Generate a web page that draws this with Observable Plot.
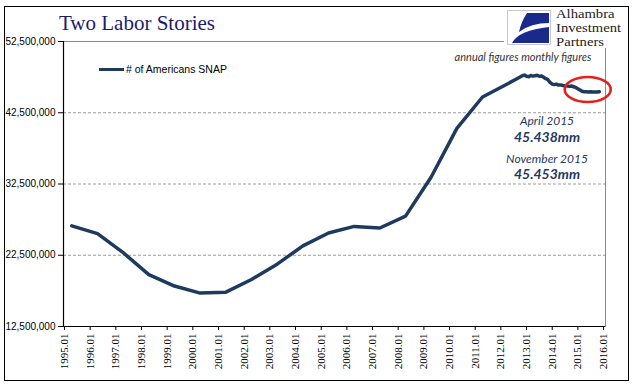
<!DOCTYPE html>
<html>
<head>
<meta charset="utf-8">
<script src="https://cdn.jsdelivr.net/npm/d3@7"></script>
<script src="https://cdn.jsdelivr.net/npm/@observablehq/plot@0.6"></script>
<style>
  html, body { margin: 0; padding: 0; background: #fff; }
  #wrap { position: relative; width: 641px; height: 392px; overflow: hidden; background: #fff; }
  #wrap svg { position: absolute; left: 0; top: 0; }
  .ov { position: absolute; white-space: nowrap; }
  #border { position: absolute; left: 4px; top: 6px; width: 625px; height: 375px; border: 1.5px solid #000; box-sizing: border-box; pointer-events: none; }
  #title { left: 59px; top: 11px; font-family: "Liberation Serif", serif; font-size: 21px; color: #1b1b6e; }
  #legend { left: 99px; top: 63px; font-family: "Liberation Sans", Arial, sans-serif; font-size: 10.5px; color: #000; display: flex; align-items: center; }
  #legend .sw { width: 25px; height: 3px; background: #1f3a5f; margin-right: 2px; }
  #logo { left: 504px; top: 7px; width: 123px; height: 41px; background: #fff; }
  #logo .txt { position: absolute; left: 52px; font-family: "Liberation Serif", serif; font-size: 12px; line-height: 13px; height: 13px; color: #222; transform: scaleX(1.22); transform-origin: left center; }
  .ann { font-family: Lato, "Open Sans", sans-serif; color: #1f3864; transform: translateX(-50%); }
</style>
</head>
<body>
<div id="wrap"></div>
<script>
// ---- data ----
const annualDates = ["1995-04-15","1996-04-15","1997-04-15","1998-04-15","1999-04-15","2000-04-15","2001-04-15","2002-04-15","2003-04-15","2004-04-15","2005-04-15","2006-04-15","2007-04-15","2008-04-15","2009-04-15","2010-04-15","2011-04-15","2012-04-15"];
const annualValues = [26.62, 25.54, 22.86, 19.79, 18.18, 17.19, 17.32, 19.10, 21.25, 23.81, 25.63, 26.55, 26.32, 27.99, 33.49, 40.30, 44.71, 46.61];
const monthlyDates = ["2012-10-01","2012-11-01","2012-12-01","2013-01-01","2013-02-01","2013-03-01","2013-04-01","2013-05-01","2013-06-01","2013-07-01","2013-08-01","2013-09-01","2013-10-01","2013-11-01","2013-12-01","2014-01-01","2014-02-01","2014-03-01","2014-04-01","2014-05-01","2014-06-01","2014-07-01","2014-08-01","2014-09-01","2014-10-01","2014-11-01","2014-12-01","2015-01-01","2015-02-01","2015-03-01","2015-04-01","2015-05-01","2015-06-01","2015-07-01","2015-08-01","2015-09-01","2015-10-01","2015-11-01"];
const monthlyValues = [47.53, 47.69, 47.79, 47.61, 47.56, 47.73, 47.64, 47.70, 47.76, 47.62, 47.67, 47.47, 47.28, 47.14, 46.75, 46.52, 46.45, 46.52, 46.38, 46.41, 46.32, 46.30, 46.27, 46.20, 46.25, 46.15, 46.05, 45.85, 45.70, 45.52, 45.44, 45.46, 45.42, 45.45, 45.40, 45.42, 45.40, 45.45];
const yTicks = [12500000, 22500000, 32500000, 42500000, 52500000];
const gridValues = [22500000, 32500000, 42500000];
const xTickYears = d3.range(1995, 2017);
const seriesName = "# of Americans SNAP";
const highlight = {date: "2015-05-28", value: 45.7};
const logoLines = ["Alhambra", "Investment", "Partners"];
const annotations = [
  {text: "annual figures  monthly figures"},
  {text: "April 2015"}, {text: "45.438mm"},
  {text: "November 2015"}, {text: "45.453mm"}
];

const data = annualDates.map((d, i) => ({date: new Date(d), value: annualValues[i] * 1e6}))
  .concat(monthlyDates.map((d, i) => ({date: new Date(d), value: monthlyValues[i] * 1e6})));

const xDomain = [new Date("1994-12-18"), new Date("2016-01-29")];
const xTicks = xTickYears.map(y => new Date(Date.UTC(y, 0, 1)));
const lineColor = "#1f3a5f";

const plot = Plot.plot({
  width: 641,
  height: 392,
  marginLeft: 63,
  marginRight: 36,
  marginTop: 41,
  marginBottom: 66,
  style: {background: "transparent", color: "#000"},
  x: {type: "utc", domain: xDomain},
  y: {domain: [yTicks[0], yTicks[yTicks.length - 1]]},
  marks: [
    Plot.ruleY(gridValues, {stroke: "#9a9a9a", strokeDasharray: "3,2", strokeWidth: 1}),
    Plot.frame({stroke: "#8a8a8a"}),
    Plot.ruleX([xDomain[0]], {stroke: "#000", strokeWidth: 1.2}),
    Plot.ruleY([yTicks[0]], {stroke: "#000", strokeWidth: 1.2}),
    Plot.axisY({ticks: yTicks, tickFormat: d3.format(","), tickSize: 5, tickPadding: 3, fontSize: 10, fontFamily: "Liberation Sans, Arial, sans-serif", label: null}),
    Plot.axisX({ticks: xTicks, tickFormat: d3.utcFormat("%Y.%m"), tickRotate: -90, tickSize: 4, tickPadding: 3, fontSize: 11, fontFamily: "Liberation Serif, serif", label: null}),
    Plot.lineY(data, {x: "date", y: "value", stroke: lineColor, strokeWidth: 3.5, strokeLinejoin: "round", strokeLinecap: "round"})
  ]
});

const wrap = document.getElementById("wrap");
wrap.appendChild(plot);

// highlight ellipse anchored through the plot's scales
const sx = plot.scale("x"), sy = plot.scale("y");
d3.select(plot).append("ellipse")
  .attr("cx", sx.apply(new Date(highlight.date)))
  .attr("cy", sy.apply(highlight.value * 1e6))
  .attr("rx", 23).attr("ry", 12.5)
  .attr("fill", "none").attr("stroke", "#e3201b").attr("stroke-width", 2.6);

// overlays
function add(html, cls, id, style) {
  const el = document.createElement("div");
  el.className = "ov " + (cls || "");
  if (id) el.id = id;
  if (style) el.setAttribute("style", style);
  el.innerHTML = html;
  wrap.appendChild(el);
  return el;
}
add("Two Labor Stories", "", "title");
add('<div class="sw"></div><span>' + seriesName + '</span>', "", "legend");
add('<svg width="45" height="36" style="position:absolute;left:3px;top:3px">' +
    '<rect x="0.5" y="0.5" width="43" height="34" fill="#fff" stroke="#c8c8c8"/>' +
    '<path d="M20,3 L42,3 L42,13 Q24,13 12,22 Q14,12 20,3 Z" fill="#1a2a8a"/>' +
    '<path d="M5,33 Q12,20 42,17 L42,33 Z" fill="#1a2a8a"/></svg>' +
    logoLines.map((t, i) => '<div class="txt" style="top:' + (1 + i * 14) + 'px">' + t + '</div>').join(""),
    "", "logo");
add(annotations[0].text, "ann", null, "left:523px;top:50px;font-size:11px;font-style:italic;color:#333;");
add(annotations[1].text, "ann", null, "left:547px;top:113px;font-size:12px;font-style:italic;");
add(annotations[2].text, "ann", null, "left:547px;top:128px;font-size:14px;font-weight:bold;font-style:italic;");
add(annotations[3].text, "ann", null, "left:547px;top:151px;font-size:12px;font-style:italic;");
add(annotations[4].text, "ann", null, "left:547px;top:165px;font-size:14px;font-weight:bold;font-style:italic;");
add("", "", "border");
</script>
</body>
</html>
